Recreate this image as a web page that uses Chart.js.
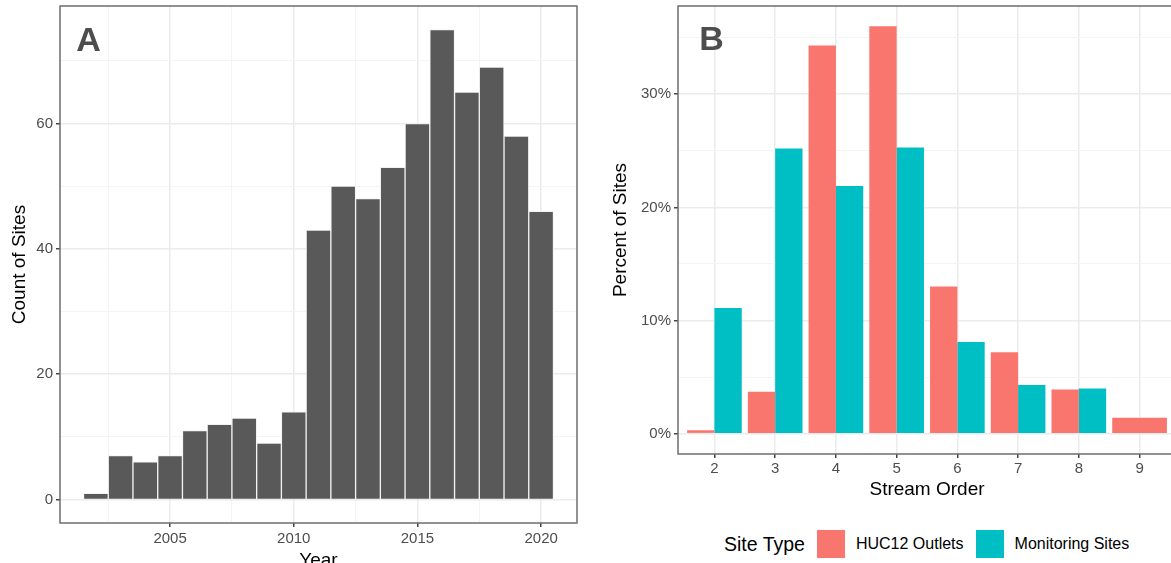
<!DOCTYPE html>
<html>
<head>
<meta charset="utf-8">
<title>Sites by year and by stream order</title>
<script src="https://cdn.jsdelivr.net/npm/chart.js@4.4.1/dist/chart.umd.min.js"></script>
<style>
    html, body {
        margin: 0;
        padding: 0;
        width: 1171px;
        height: 563px;
        overflow: hidden;
        background: #fff;
    }
    #panelA { position: absolute; left: 0; top: 0; }
    #panelB { position: absolute; left: 600px; top: 0; }
    #legend {
        position: absolute;
        left: 724px;
        top: 530px;
        height: 28px;
        display: flex;
        align-items: center;
        font-family: "Liberation Sans", Arial, sans-serif;
        white-space: nowrap;
    }
    #legend .title { font-size: 19.5px; color: #000; margin-right: 12px; }
    #legend .swatch { width: 28px; height: 28px; margin-right: 11px; }
    #legend .label { font-size: 16px; color: #000; margin-right: 12px; }
</style>
</head>
<body>
<canvas id="panelA" width="590" height="590"></canvas>
<canvas id="panelB" width="600" height="515"></canvas>
<div id="legend"><span class="title">Site Type</span></div>

<script>
// panel A: sites per year
const years = [2002, 2003, 2004, 2005, 2006, 2007, 2008, 2009, 2010, 2011,
    2012, 2013, 2014, 2015, 2016, 2017, 2018, 2019, 2020];
const siteCounts = [1, 7, 6, 7, 11, 12, 13, 9, 14, 43,
    50, 48, 53, 60, 75, 65, 69, 58, 46];
const yearTicks = [2005, 2010, 2015, 2020];
const yearMinorTicks = [2002.5, 2007.5, 2012.5, 2017.5];
const countTicks = [0, 20, 40, 60];
const countMinorTicks = [10, 30, 50, 70];

// panel B: percent of sites by stream order
const streamOrders = [2, 3, 4, 5, 6, 7, 8, 9];
const hucOutlets = [0.3, 3.7, 34.3, 36.0, 13.0, 7.2, 3.9, 1.4];
const monitoringSites = [11.1, 25.2, 21.9, 25.3, 8.1, 4.3, 4.0, null];
const percentTicks = [0, 10, 20, 30];
const percentMinorTicks = [5, 15, 25, 35];
const siteTypes = ["HUC12 Outlets", "Monitoring Sites"];

const siteColors = ["#F8766D", "#00BFC4"];
const FONT = '"Liberation Sans", Arial, sans-serif';
Chart.defaults.font.family = FONT;

function axisTicks(majors, minors) {
    return (scale) => {
        scale.ticks = majors
            .concat(minors)
            .sort((a, b) => a - b)
            .map((v) => ({ value: v }));
    };
}

function gridStyle(majors) {
    return {
        color: (ctx) => (majors.includes(ctx.tick.value) ? "#EBEBEB" : "#F4F4F4"),
        lineWidth: (ctx) => (majors.includes(ctx.tick.value) ? 1.5 : 1),
        tickColor: (ctx) => (majors.includes(ctx.tick.value) ? "#444" : "rgba(0,0,0,0)"),
        tickWidth: 1.5,
        tickLength: 4,
        offset: false,
    };
}

function fixWidth(w) {
    return (scale) => {
        scale.width = w;
        scale.paddingTop = 0;
        scale.paddingBottom = 0;
    };
}

function fixHeight(h) {
    return (scale) => {
        scale.height = h;
        scale.paddingLeft = 0;
        scale.paddingRight = 0;
    };
}

const panelBorder = {
    id: "panelBorder",
    afterDatasetsDraw(chart) {
        const { ctx, chartArea: a } = chart;
        ctx.save();
        ctx.strokeStyle = "#6e6e6e";
        ctx.lineWidth = 1.5;
        ctx.strokeRect(a.left, a.top, a.right - a.left, a.bottom - a.top);
        ctx.restore();
    },
};

const panelLetter = {
    id: "panelLetter",
    afterDatasetsDraw(chart, args, opts) {
        const { ctx, scales } = chart;
        ctx.save();
        ctx.font = "bold 34px " + FONT;
        ctx.fillStyle = "#4D4D4D";
        ctx.textAlign = "center";
        ctx.textBaseline = "middle";
        ctx.fillText(opts.text, scales.x.getPixelForValue(opts.x), scales.y.getPixelForValue(opts.y));
        ctx.restore();
    },
};

const tickFont = { size: 15 };
const titleFont = { size: 19 };

new Chart(document.getElementById("panelA"), {
    type: "bar",
    data: {
        datasets: [
            {
                data: years.map((yr, i) => ({ x: yr, y: siteCounts[i] })),
                backgroundColor: "#595959",
                borderColor: "#F2F2F2",
                borderWidth: 1,
                categoryPercentage: 1,
                barPercentage: 1,
            },
        ],
    },
    options: {
        responsive: false,
        animation: false,
        layout: { padding: { left: 0, top: 6, right: 13, bottom: 0 } },
        plugins: {
            legend: { display: false },
            tooltip: { enabled: false },
            panelLetter: { text: "A", x: 2001.7, y: 73 },
        },
        scales: {
            x: {
                type: "linear",
                min: 2000.55,
                max: 2021.45,
                offset: false,
                afterBuildTicks: axisTicks(yearTicks, yearMinorTicks),
                afterFit: fixHeight(67),
                grid: gridStyle(yearTicks),
                border: { display: false },
                ticks: {
                    autoSkip: false,
                    maxRotation: 0,
                    padding: 3,
                    color: "#4D4D4D",
                    font: tickFont,
                    callback: (v) => (yearTicks.includes(v) ? String(v) : ""),
                },
                title: {
                    display: true,
                    text: "Year",
                    color: "#000",
                    font: titleFont,
                    padding: { top: 0, bottom: 18 },
                },
            },
            y: {
                min: -3.75,
                max: 78.75,
                afterBuildTicks: axisTicks(countTicks, countMinorTicks),
                afterFit: fixWidth(60),
                grid: gridStyle(countTicks),
                border: { display: false },
                ticks: {
                    padding: 3,
                    color: "#4D4D4D",
                    font: tickFont,
                    callback: (v) => (countTicks.includes(v) ? String(v) : ""),
                },
                title: {
                    display: true,
                    text: "Count of Sites",
                    color: "#000",
                    font: titleFont,
                    padding: { top: 8, bottom: 0 },
                },
            },
        },
    },
    plugins: [panelBorder, panelLetter],
});

const seriesB = [hucOutlets, monitoringSites];

const chartB = new Chart(document.getElementById("panelB"), {
    type: "bar",
    data: {
        datasets: siteTypes.map((name, k) => ({
            label: name,
            data: streamOrders.map((o, i) => ({ x: o, y: seriesB[k][i] })),
            backgroundColor: siteColors[k],
            borderWidth: 0,
            categoryPercentage: 0.9,
            barPercentage: 1,
            skipNull: true,
        })),
    },
    options: {
        responsive: false,
        animation: false,
        layout: { padding: { left: 0, top: 6, right: 24, bottom: 0 } },
        plugins: {
            legend: { display: false },
            tooltip: { enabled: false },
            panelLetter: { text: "B", x: 1.95, y: 34.7 },
        },
        scales: {
            x: {
                type: "linear",
                min: 1.4,
                max: 9.6,
                offset: false,
                afterBuildTicks: axisTicks(streamOrders, []),
                afterFit: fixHeight(61),
                grid: gridStyle(streamOrders),
                border: { display: false },
                ticks: {
                    autoSkip: false,
                    maxRotation: 0,
                    padding: 2,
                    color: "#4D4D4D",
                    font: tickFont,
                    callback: (v) => String(v),
                },
                title: {
                    display: true,
                    text: "Stream Order",
                    color: "#000",
                    font: titleFont,
                    padding: { top: 0, bottom: 14 },
                },
            },
            y: {
                min: -1.8,
                max: 37.8,
                afterBuildTicks: axisTicks(percentTicks, percentMinorTicks),
                afterFit: fixWidth(78),
                grid: gridStyle(percentTicks),
                border: { display: false },
                ticks: {
                    padding: 3,
                    color: "#4D4D4D",
                    font: tickFont,
                    callback: (v) => (percentTicks.includes(v) ? v + "%" : ""),
                },
                title: {
                    display: true,
                    text: "Percent of Sites",
                    color: "#000",
                    font: titleFont,
                    padding: { top: 9, bottom: 0 },
                },
            },
        },
    },
    plugins: [panelBorder, panelLetter],
});

// legend built from the chart's own datasets
const legendBox = document.getElementById("legend");
chartB.data.datasets.forEach((ds) => {
    const swatch = document.createElement("span");
    swatch.className = "swatch";
    swatch.style.background = ds.backgroundColor;
    const label = document.createElement("span");
    label.className = "label";
    label.textContent = ds.label;
    legendBox.append(swatch, label);
});
</script>
</body>
</html>
